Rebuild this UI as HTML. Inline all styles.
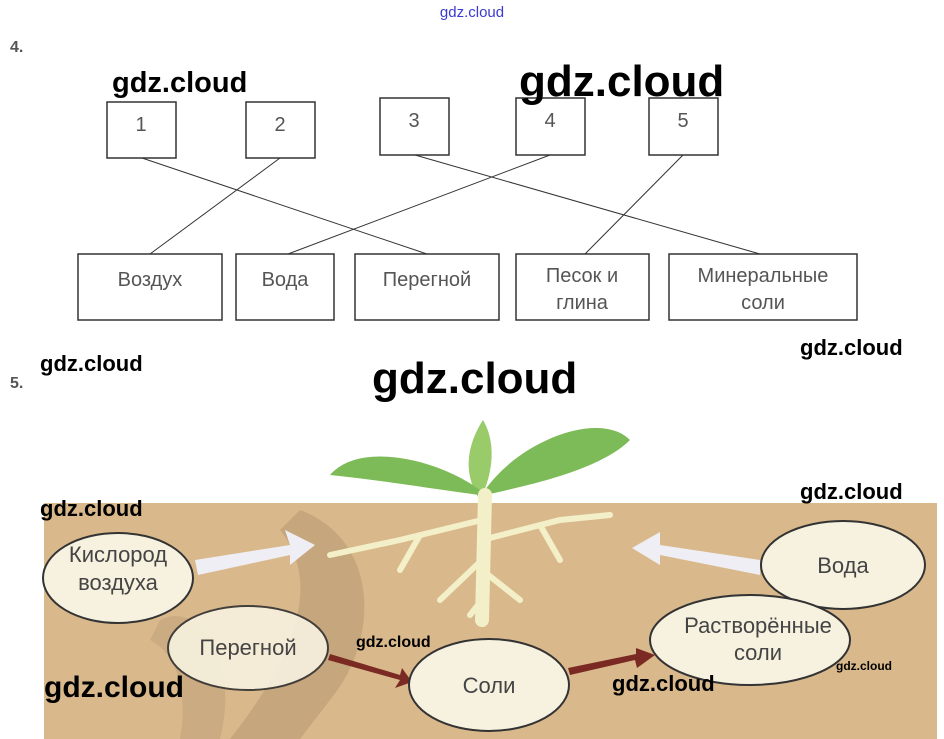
<!DOCTYPE html>
<html><head><meta charset="utf-8"><style>
body{margin:0;width:944px;height:739px;background:#fff;position:relative;overflow:hidden;font-family:"Liberation Sans",sans-serif}
.w{position:absolute;font-family:"Liberation Sans",sans-serif;color:#000;white-space:nowrap}
</style></head><body>
<svg width="944" height="739" style="position:absolute;left:0;top:0" font-family="Liberation Sans, sans-serif">
<text x="472" y="17" font-size="15" fill="#3a3ad0" text-anchor="middle">gdz.cloud</text>
<text x="10" y="52" font-size="16" font-weight="bold" fill="#555">4.</text>
<g fill="#fff" stroke="#333" stroke-width="1.5">
<rect x="107" y="102" width="69" height="56"/><rect x="246" y="102" width="69" height="56"/>
<rect x="380" y="98" width="69" height="57"/><rect x="516" y="98" width="69" height="57"/>
<rect x="649" y="98" width="69" height="57"/>
<rect x="78" y="254" width="144" height="66"/><rect x="236" y="254" width="98" height="66"/>
<rect x="355" y="254" width="144" height="66"/><rect x="516" y="254" width="133" height="66"/>
<rect x="669" y="254" width="188" height="66"/>
</g>
<g stroke="#333" stroke-width="1">
<line x1="142" y1="158" x2="427" y2="254"/><line x1="280" y1="158" x2="150" y2="254"/>
<line x1="415" y1="155" x2="760" y2="254"/><line x1="550" y1="155" x2="288" y2="254"/>
<line x1="683" y1="155" x2="585" y2="254"/>
</g>
<g font-size="20" fill="#555" text-anchor="middle">
<text x="141" y="131">1</text><text x="280" y="131">2</text><text x="414" y="127">3</text><text x="550" y="127">4</text><text x="683" y="127">5</text>
<text x="150" y="286">Воздух</text><text x="285" y="286">Вода</text><text x="427" y="286">Перегной</text>
<text x="582" y="282">Песок и</text><text x="582" y="309">глина</text>
<text x="763" y="282">Минеральные</text><text x="763" y="309">соли</text>
</g>
<text x="10" y="388" font-size="16" font-weight="bold" fill="#555">5.</text>
<rect x="44" y="503" width="893" height="236" fill="#d9b98c"/>
<path d="M300 510 C380 540 380 640 330 700 L300 739 L230 739 C300 650 320 580 280 530Z" fill="#b99a72" opacity="0.6"/>
<path d="M160 620 C200 600 240 660 220 739 L180 739 C190 680 170 650 150 640Z" fill="#c1a27a" opacity="0.6"/>
<path d="M483 420 C470 440 460 470 480 500 C495 470 495 440 483 420Z" fill="#9acb6a"/>
<path d="M480 490 C440 460 360 440 330 475 C380 480 440 490 480 495Z" fill="#7dbb58"/>
<path d="M485 490 C520 440 600 410 630 440 C600 470 530 485 485 495Z" fill="#7dbb58"/>
<g stroke="#f3efc8" stroke-linecap="round" fill="none">
<path d="M485 495 L482 620" stroke-width="14"/>
<path d="M482 520 L400 540 L330 555 M420 535 L400 570 M482 540 L560 520 L610 515 M540 525 L560 560 M482 560 L440 600 M482 570 L520 600 M482 600 L470 615" stroke-width="6"/>
</g>
<path d="M195 560 L290 545 L285 530 L315 545 L290 565 L290 555 L198 575Z" fill="#eeeef4"/>
<path d="M760 560 L660 545 L660 532 L632 548 L660 565 L660 555 L760 575Z" fill="#eeeef4"/>
<path d="M328 660 L400 680 L395 688 L412 682 L402 668 L400 675 L330 654Z" fill="#7a2a22"/>
<path d="M570 675 L635 660 L637 668 L655 655 L636 648 L636 654 L568 668Z" fill="#7a2a22"/>
<g fill="#f7f2e0" stroke="#333" stroke-width="2">
<ellipse cx="118" cy="578" rx="75" ry="45"/><ellipse cx="248" cy="648" rx="80" ry="42" opacity="0.9"/>
<ellipse cx="489" cy="685" rx="80" ry="46"/><ellipse cx="843" cy="565" rx="82" ry="44"/>
<ellipse cx="750" cy="640" rx="100" ry="45"/>
</g>
<g font-size="22" fill="#444" text-anchor="middle">
<text x="118" y="562">Кислород</text><text x="118" y="590">воздуха</text>
<text x="248" y="655">Перегной</text><text x="489" y="693">Соли</text>
<text x="843" y="573">Вода</text>
<text x="758" y="633">Растворённые</text><text x="758" y="660">соли</text>
</g>
<g fill="#000" font-weight="bold">
<text x="112" y="92" font-size="29">gdz.cloud</text>
<text x="519" y="96" font-size="44">gdz.cloud</text>
<text x="40" y="371" font-size="22">gdz.cloud</text>
<text x="800" y="355" font-size="22">gdz.cloud</text>
<text x="372" y="393" font-size="44">gdz.cloud</text>
<text x="40" y="516" font-size="22">gdz.cloud</text>
<text x="800" y="499" font-size="22">gdz.cloud</text>
<text x="356" y="647" font-size="16">gdz.cloud</text>
<text x="44" y="697" font-size="30">gdz.cloud</text>
<text x="612" y="691" font-size="22">gdz.cloud</text>
<text x="836" y="670" font-size="12">gdz.cloud</text>
</g>
</svg>
</body></html>
